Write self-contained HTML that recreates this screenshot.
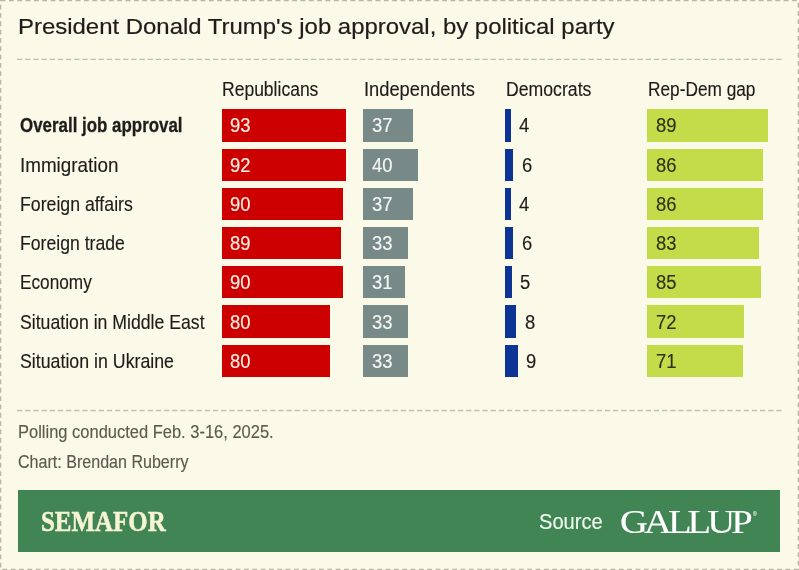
<!DOCTYPE html>
<html lang="en"><head><meta charset="utf-8"><title>President Donald Trump's job approval, by political party</title>
<style>
html,body{margin:0;padding:0}
body{width:799px;height:570px;background:#fbf9e7;position:relative;overflow:hidden;font-family:"Liberation Sans",sans-serif}
.t{position:absolute;white-space:nowrap;transform-origin:0 0;line-height:1;-webkit-text-stroke:0.15px currentColor}
.bar{position:absolute;height:32.3px}
.c0{background:#cc0000}.c1{background:#788a88}.c2{background:#0b3494}.c3{background:#c5dc4a}
.frame{position:absolute;left:0;top:0}
.foot{position:absolute;left:18px;top:490px;width:762.4px;height:61.7px;background:#418555}
</style></head><body>
<svg class="frame" width="799" height="570" viewBox="0 0 799 570" fill="none">
<rect x="0.66" y="0.66" width="797.68" height="568.68" stroke="#b9b7a6" stroke-width="1.32" stroke-dasharray="4.8 3.53"/>
<path d="M17 59.4H781.5M17 410.5H781.5" stroke="#c1bfae" stroke-width="1.32" stroke-dasharray="5.3 2.865"/>
</svg>
<div class="foot"></div>
<div class="bar c0" style="left:222.40px;top:109.40px;width:123.80px"></div>
<div class="bar c0" style="left:222.40px;top:148.60px;width:123.80px"></div>
<div class="bar c0" style="left:222.40px;top:187.80px;width:120.60px"></div>
<div class="bar c0" style="left:222.40px;top:227.00px;width:118.90px"></div>
<div class="bar c0" style="left:222.40px;top:266.20px;width:120.60px"></div>
<div class="bar c0" style="left:222.40px;top:305.40px;width:107.40px"></div>
<div class="bar c0" style="left:222.40px;top:344.60px;width:107.40px"></div>
<div class="bar c1" style="left:363.20px;top:109.40px;width:50.00px"></div>
<div class="bar c1" style="left:363.20px;top:148.60px;width:55.00px"></div>
<div class="bar c1" style="left:363.20px;top:187.80px;width:50.00px"></div>
<div class="bar c1" style="left:363.20px;top:227.00px;width:44.90px"></div>
<div class="bar c1" style="left:363.20px;top:266.20px;width:42.20px"></div>
<div class="bar c1" style="left:363.20px;top:305.40px;width:45.00px"></div>
<div class="bar c1" style="left:363.20px;top:344.60px;width:45.00px"></div>
<div class="bar c2" style="left:505.30px;top:109.40px;width:5.70px"></div>
<div class="bar c2" style="left:505.30px;top:148.60px;width:7.80px"></div>
<div class="bar c2" style="left:505.30px;top:187.80px;width:5.70px"></div>
<div class="bar c2" style="left:505.30px;top:227.00px;width:7.80px"></div>
<div class="bar c2" style="left:505.30px;top:266.20px;width:6.50px"></div>
<div class="bar c2" style="left:505.30px;top:305.40px;width:10.90px"></div>
<div class="bar c2" style="left:505.30px;top:344.60px;width:12.60px"></div>
<div class="bar c3" style="left:647.20px;top:109.40px;width:120.70px"></div>
<div class="bar c3" style="left:647.20px;top:148.60px;width:115.50px"></div>
<div class="bar c3" style="left:647.20px;top:187.80px;width:115.50px"></div>
<div class="bar c3" style="left:647.20px;top:227.00px;width:111.80px"></div>
<div class="bar c3" style="left:647.20px;top:266.20px;width:114.10px"></div>
<div class="bar c3" style="left:647.20px;top:305.40px;width:97.30px"></div>
<div class="bar c3" style="left:647.20px;top:344.60px;width:95.80px"></div>
<div class="t" id="title" style="left:18.45px;top:15px;font:400 22.9px/1 'Liberation Sans', sans-serif;color:#1d1d1b;transform:scaleX(1.0455);-webkit-text-stroke-width:0.2px;">President Donald Trump's job approval, by political party</div>
<div class="t" id="h1" style="left:221.62px;top:79px;font:400 20.0px/1 'Liberation Sans', sans-serif;color:#1d1d1b;transform:scaleX(0.8756);">Republicans</div>
<div class="t" id="h2" style="left:363.59px;top:79px;font:400 20.0px/1 'Liberation Sans', sans-serif;color:#1d1d1b;transform:scaleX(0.9150);">Independents</div>
<div class="t" id="h3" style="left:505.62px;top:79px;font:400 20.0px/1 'Liberation Sans', sans-serif;color:#1d1d1b;transform:scaleX(0.8831);">Democrats</div>
<div class="t" id="h4" style="left:647.64px;top:79px;font:400 20.0px/1 'Liberation Sans', sans-serif;color:#1d1d1b;transform:scaleX(0.8632);">Rep-Dem gap</div>
<div class="t" id="r1" style="left:20.00px;top:115px;font:700 20.4px/1 'Liberation Sans', sans-serif;color:#1d1d1b;transform:scaleX(0.8292);-webkit-text-stroke-width:0.3px;">Overall job approval</div>
<div class="t" id="r2" style="left:19.55px;top:156px;font:400 19.8px/1 'Liberation Sans', sans-serif;color:#1d1d1b;transform:scaleX(0.9523);">Immigration</div>
<div class="t" id="r3" style="left:19.61px;top:195px;font:400 19.8px/1 'Liberation Sans', sans-serif;color:#1d1d1b;transform:scaleX(0.8947);">Foreign affairs</div>
<div class="t" id="r4" style="left:19.61px;top:234px;font:400 19.8px/1 'Liberation Sans', sans-serif;color:#1d1d1b;transform:scaleX(0.8915);">Foreign trade</div>
<div class="t" id="r5" style="left:19.63px;top:273px;font:400 19.8px/1 'Liberation Sans', sans-serif;color:#1d1d1b;transform:scaleX(0.8705);">Economy</div>
<div class="t" id="r6" style="left:20.00px;top:313px;font:400 19.8px/1 'Liberation Sans', sans-serif;color:#1d1d1b;transform:scaleX(0.8928);">Situation in Middle East</div>
<div class="t" id="r7" style="left:20.00px;top:352px;font:400 19.8px/1 'Liberation Sans', sans-serif;color:#1d1d1b;transform:scaleX(0.8978);">Situation in Ukraine</div>
<div class="t" id="n1" style="left:18.10px;top:423px;font:400 18.3px/1 'Liberation Sans', sans-serif;color:#5a5a4d;transform:scaleX(0.9017);">Polling conducted Feb. 3-16, 2025.</div>
<div class="t" id="n2" style="left:18.40px;top:453px;font:400 18.3px/1 'Liberation Sans', sans-serif;color:#5a5a4d;transform:scaleX(0.8787);">Chart: Brendan Ruberry</div>
<div class="t" id="sem" style="left:41.48px;top:506px;font:700 30.4px/1 'Liberation Serif', serif;color:#f7f4d4;transform:scaleX(0.8204);-webkit-text-stroke-width:0.55px;">SEMAFOR</div>
<div class="t" id="src" style="left:539.29px;top:511px;font:400 22.0px/1 'Liberation Sans', sans-serif;color:#eefaee;transform:scaleX(0.9143);">Source</div>
<div class="t" id="gal" style="left:620.26px;top:505px;font:400 33.8px/1 'Liberation Serif', serif;color:#ffffff;transform:scaleX(1.1405);letter-spacing:-3.4px;">GALLUP</div>
<div class="t" id="reg" style="left:752.80px;top:511px;font:400 6px/1 'Liberation Sans', sans-serif;color:#cfe3d2;transform:scaleX(0.8400);">®</div>
<div class="t" id="v0_0" style="left:230.20px;top:116px;font:400 19.6px/1 'Liberation Sans', sans-serif;color:#fbf1e4;transform:scaleX(0.9400);">93</div>
<div class="t" id="v0_1" style="left:230.20px;top:156px;font:400 19.6px/1 'Liberation Sans', sans-serif;color:#fbf1e4;transform:scaleX(0.9400);">92</div>
<div class="t" id="v0_2" style="left:230.20px;top:195px;font:400 19.6px/1 'Liberation Sans', sans-serif;color:#fbf1e4;transform:scaleX(0.9400);">90</div>
<div class="t" id="v0_3" style="left:230.20px;top:234px;font:400 19.6px/1 'Liberation Sans', sans-serif;color:#fbf1e4;transform:scaleX(0.9400);">89</div>
<div class="t" id="v0_4" style="left:230.20px;top:273px;font:400 19.6px/1 'Liberation Sans', sans-serif;color:#fbf1e4;transform:scaleX(0.9400);">90</div>
<div class="t" id="v0_5" style="left:230.20px;top:313px;font:400 19.6px/1 'Liberation Sans', sans-serif;color:#fbf1e4;transform:scaleX(0.9400);">80</div>
<div class="t" id="v0_6" style="left:230.20px;top:352px;font:400 19.6px/1 'Liberation Sans', sans-serif;color:#fbf1e4;transform:scaleX(0.9400);">80</div>
<div class="t" id="v1_0" style="left:371.70px;top:116px;font:400 19.6px/1 'Liberation Sans', sans-serif;color:#f4f6f2;transform:scaleX(0.9400);">37</div>
<div class="t" id="v1_1" style="left:371.70px;top:156px;font:400 19.6px/1 'Liberation Sans', sans-serif;color:#f4f6f2;transform:scaleX(0.9400);">40</div>
<div class="t" id="v1_2" style="left:371.70px;top:195px;font:400 19.6px/1 'Liberation Sans', sans-serif;color:#f4f6f2;transform:scaleX(0.9400);">37</div>
<div class="t" id="v1_3" style="left:371.70px;top:234px;font:400 19.6px/1 'Liberation Sans', sans-serif;color:#f4f6f2;transform:scaleX(0.9400);">33</div>
<div class="t" id="v1_4" style="left:371.70px;top:273px;font:400 19.6px/1 'Liberation Sans', sans-serif;color:#f4f6f2;transform:scaleX(0.9400);">31</div>
<div class="t" id="v1_5" style="left:371.70px;top:313px;font:400 19.6px/1 'Liberation Sans', sans-serif;color:#f4f6f2;transform:scaleX(0.9400);">33</div>
<div class="t" id="v1_6" style="left:371.70px;top:352px;font:400 19.6px/1 'Liberation Sans', sans-serif;color:#f4f6f2;transform:scaleX(0.9400);">33</div>
<div class="t" id="v2_0" style="left:519.40px;top:116px;font:400 19.6px/1 'Liberation Sans', sans-serif;color:#1d1d1b;transform:scaleX(0.9400);">4</div>
<div class="t" id="v2_1" style="left:521.50px;top:156px;font:400 19.6px/1 'Liberation Sans', sans-serif;color:#1d1d1b;transform:scaleX(0.9400);">6</div>
<div class="t" id="v2_2" style="left:519.40px;top:195px;font:400 19.6px/1 'Liberation Sans', sans-serif;color:#1d1d1b;transform:scaleX(0.9400);">4</div>
<div class="t" id="v2_3" style="left:521.50px;top:234px;font:400 19.6px/1 'Liberation Sans', sans-serif;color:#1d1d1b;transform:scaleX(0.9400);">6</div>
<div class="t" id="v2_4" style="left:520.20px;top:273px;font:400 19.6px/1 'Liberation Sans', sans-serif;color:#1d1d1b;transform:scaleX(0.9400);">5</div>
<div class="t" id="v2_5" style="left:524.60px;top:313px;font:400 19.6px/1 'Liberation Sans', sans-serif;color:#1d1d1b;transform:scaleX(0.9400);">8</div>
<div class="t" id="v2_6" style="left:526.30px;top:352px;font:400 19.6px/1 'Liberation Sans', sans-serif;color:#1d1d1b;transform:scaleX(0.9400);">9</div>
<div class="t" id="v3_0" style="left:656.00px;top:116px;font:400 19.6px/1 'Liberation Sans', sans-serif;color:#2c3318;transform:scaleX(0.9400);">89</div>
<div class="t" id="v3_1" style="left:656.00px;top:156px;font:400 19.6px/1 'Liberation Sans', sans-serif;color:#2c3318;transform:scaleX(0.9400);">86</div>
<div class="t" id="v3_2" style="left:656.00px;top:195px;font:400 19.6px/1 'Liberation Sans', sans-serif;color:#2c3318;transform:scaleX(0.9400);">86</div>
<div class="t" id="v3_3" style="left:656.00px;top:234px;font:400 19.6px/1 'Liberation Sans', sans-serif;color:#2c3318;transform:scaleX(0.9400);">83</div>
<div class="t" id="v3_4" style="left:656.00px;top:273px;font:400 19.6px/1 'Liberation Sans', sans-serif;color:#2c3318;transform:scaleX(0.9400);">85</div>
<div class="t" id="v3_5" style="left:656.00px;top:313px;font:400 19.6px/1 'Liberation Sans', sans-serif;color:#2c3318;transform:scaleX(0.9400);">72</div>
<div class="t" id="v3_6" style="left:656.00px;top:352px;font:400 19.6px/1 'Liberation Sans', sans-serif;color:#2c3318;transform:scaleX(0.9400);">71</div>
</body></html>
